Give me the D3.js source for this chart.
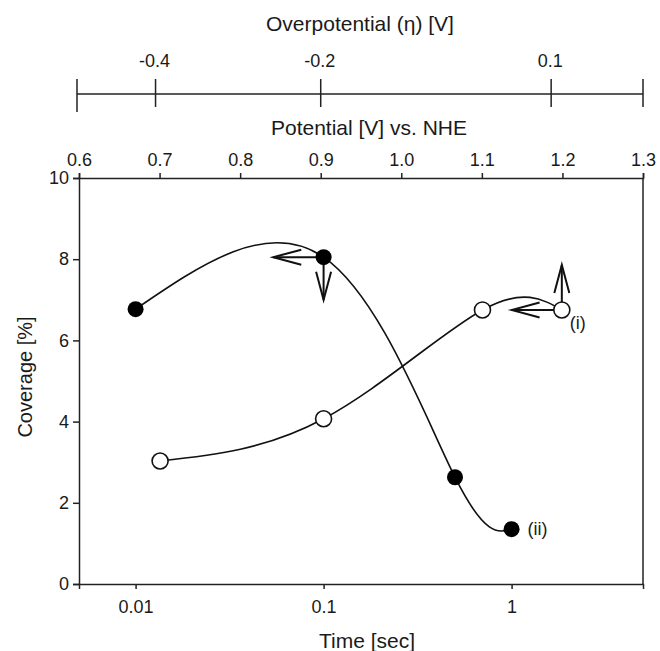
<!DOCTYPE html>
<html><head><meta charset="utf-8">
<script src="https://cdn.jsdelivr.net/npm/d3@7"></script>
<style>
body{margin:0;background:#fff;}
text{font-family:"Liberation Sans",Arial,sans-serif;fill:#1a1a1a;}
</style></head>
<body><svg id="c" width="660" height="651"></svg>
<script>
// ---- data ----
const timeTicks = [0.01, 0.1, 1];
const coverageTicks = [0, 2, 4, 6, 8, 10];
const potentialTicks = [0.6, 0.7, 0.8, 0.9, 1.0, 1.1, 1.2, 1.3];
const overpotentialTickPos = [0.695, 0.9, 1.186];   // position on potential scale
const overpotentialLabels = ["-0.4", "-0.2", "0.1"];
const seriesI_time = [0.0135, 0.1, 0.7, 1.85];
const seriesI_cov  = [3.03, 4.07, 6.75, 6.75];
const seriesII_time = [0.01, 0.1, 0.5, 1.0];
const seriesII_cov  = [6.77, 8.05, 2.63, 1.35];
// arrows: [fromTime, fromCov, toTime, toCov]
const arrows = [
  [0.1, 8.05, 0.054, 8.05],
  [0.1, 8.05, 0.1, 7.0],
  [1.85, 6.75, 1.0, 6.75],
  [1.85, 6.75, 1.85, 7.86]
];

const svg = d3.select("#c");
const L = 79, R = 643, T = 178, B = 584;
const x = d3.scaleLog().domain([0.005, 5]).range([L, R]);
const y = d3.scaleLinear().domain([0, 10]).range([B, T]);
const xp = d3.scaleLinear().domain([0.6, 1.3]).range([L, R]);
const AX = "#222";
const tickFont = "18px";
const titleFont = "21px";

// plot frame right side
svg.append("line").attr("x1", R).attr("x2", R).attr("y1", T).attr("y2", B)
  .attr("stroke", AX).attr("stroke-width", 1.5);

function styleAxis(g){
  g.select(".domain").attr("stroke", AX).attr("stroke-width", 1.5);
  g.selectAll(".tick line").attr("stroke", AX).attr("stroke-width", 1.5);
  g.selectAll(".tick text").style("font-size", tickFont).attr("fill", "#1a1a1a");
}

// bottom axis
svg.append("g").attr("transform", `translate(0,${B})`)
  .call(d3.axisBottom(x).tickValues(timeTicks).tickFormat(d => String(d)).tickSizeOuter(0).tickSize(5).tickPadding(11))
  .call(styleAxis);
// left axis
svg.append("g").attr("transform", `translate(${L},0)`)
  .call(d3.axisLeft(y).tickValues(coverageTicks).tickFormat(d3.format("d")).tickSizeOuter(0).tickSize(6).tickPadding(4))
  .call(styleAxis);
// top potential axis
svg.append("g").attr("transform", `translate(0,${T})`)
  .call(d3.axisTop(xp).tickValues(potentialTicks).tickFormat(d3.format(".1f")).tickSizeOuter(0).tickSize(5).tickPadding(7))
  .call(styleAxis);

// overpotential axis (separate floating axis)
const oy = 94;
const og = svg.append("g");
og.append("line").attr("x1", xp(0.6) - 2).attr("x2", xp(1.3)).attr("y1", oy).attr("y2", oy)
  .attr("stroke", AX).attr("stroke-width", 1.5);
og.append("line").attr("x1", xp(0.6) - 2).attr("x2", xp(0.6) - 2).attr("y1", oy - 15).attr("y2", oy + 18)
  .attr("stroke", AX).attr("stroke-width", 1.5);
og.append("line").attr("x1", xp(1.3)).attr("x2", xp(1.3)).attr("y1", oy - 15).attr("y2", oy + 13)
  .attr("stroke", AX).attr("stroke-width", 1.5);
overpotentialTickPos.forEach((p, i) => {
  og.append("line").attr("x1", xp(p)).attr("x2", xp(p)).attr("y1", oy - 15).attr("y2", oy + 13)
    .attr("stroke", AX).attr("stroke-width", 1.5);
  og.append("text").attr("x", xp(p) - 1).attr("y", oy - 27).attr("text-anchor", "middle")
    .style("font-size", tickFont).text(overpotentialLabels[i]);
});

// titles
svg.append("text").attr("x", 360).attr("y", 31).attr("text-anchor", "middle")
  .style("font-size", titleFont).text("Overpotential (η) [V]");
svg.append("text").attr("x", 369).attr("y", 135).attr("text-anchor", "middle")
  .style("font-size", titleFont).text("Potential [V] vs. NHE");
svg.append("text").attr("x", 367).attr("y", 648).attr("text-anchor", "middle")
  .style("font-size", titleFont).text("Time [sec]");
svg.append("text").attr("transform", `translate(32,377) rotate(-90)`).attr("text-anchor", "middle")
  .style("font-size", "20px").text("Coverage [%]");

// curves
const line = d3.line().x(d => x(d[0])).y(d => y(d[1])).curve(d3.curveNatural);
const sI = seriesI_time.map((t, i) => [t, seriesI_cov[i]]);
const sII = seriesII_time.map((t, i) => [t, seriesII_cov[i]]);
svg.append("path").attr("d", line(sI)).attr("fill", "none").attr("stroke", "#111").attr("stroke-width", 1.6);
svg.append("path").attr("d", line(sII)).attr("fill", "none").attr("stroke", "#111").attr("stroke-width", 1.6);

// arrows
const ag = svg.append("g").attr("stroke", "#111").attr("stroke-width", 2).attr("fill", "none");
arrows.forEach(a => {
  const x1 = x(a[0]), y1 = y(a[1]), x2 = x(a[2]), y2 = y(a[3]);
  ag.append("line").attr("x1", x1).attr("y1", y1).attr("x2", x2).attr("y2", y2);
  const ang = Math.atan2(y2 - y1, x2 - x1);
  const len = 28, hw = 7.5;
  const bx = x2 - len * Math.cos(ang), by = y2 - len * Math.sin(ang);
  const px = -Math.sin(ang) * hw, py = Math.cos(ang) * hw;
  ag.append("path").attr("d", `M${bx + px},${by + py}L${x2},${y2}L${bx - px},${by - py}`);
});

// markers
svg.append("g").selectAll("circle").data(sI).join("circle")
  .attr("cx", d => x(d[0])).attr("cy", d => y(d[1])).attr("r", 8)
  .attr("fill", "#fff").attr("stroke", "#111").attr("stroke-width", 1.6);
svg.append("g").selectAll("circle").data(sII).join("circle")
  .attr("cx", d => x(d[0])).attr("cy", d => y(d[1])).attr("r", 8)
  .attr("fill", "#000");

// series labels
const lastI = sI[sI.length - 1], lastII = sII[sII.length - 1];
svg.append("text").attr("x", x(lastI[0]) + 8).attr("y", y(lastI[1]) + 19)
  .style("font-size", "18px").text("(i)");
svg.append("text").attr("x", x(lastII[0]) + 16).attr("y", y(lastII[1]) + 6)
  .style("font-size", "18px").text("(ii)");
</script></body></html>
